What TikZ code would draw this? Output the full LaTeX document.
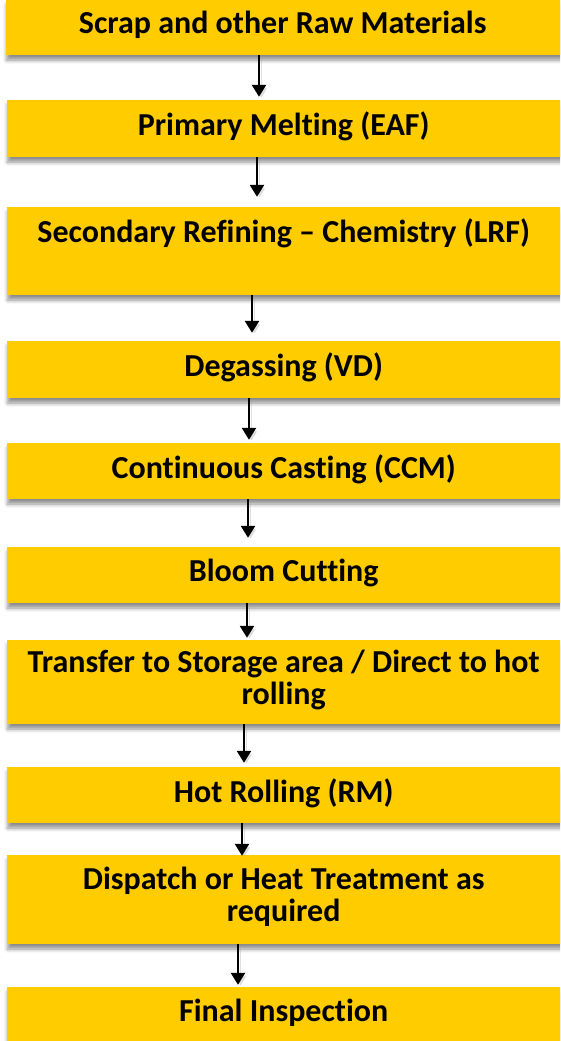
\documentclass[tikz,border=0pt]{standalone}
\usepackage{fontspec}
\setmainfont[Ligatures=NoCommon]{Carlito}
\usetikzlibrary{arrows.meta,shadows.blur}
\definecolor{boxyellow}{HTML}{FFCC00}
\newcommand{\boxtext}[1]{\makebox[573pt][l]{\makebox[553pt][c]{\begin{tabular}{@{}c@{}}#1\end{tabular}}}}
\tikzset{
  stepbox/.style={fill=boxyellow, draw=none, inner sep=0pt, anchor=west,
    font=\fontsize{32}{32}\selectfont\bfseries, text=black,
    blur shadow={shadow xshift=0.5pt, shadow yshift=-5pt, shadow blur radius=4pt, shadow opacity=45}},
  flow/.style={line width=2.5pt, draw=black, -{Triangle[width=14pt,length=12pt]},
    preaction={draw=black!35, opacity=0.35, transform canvas={xshift=2.5pt,yshift=-2.5pt}}}
}
\begin{document}
\begin{tikzpicture}[x=1pt,y=-1pt]
\useasboundingbox (0,0) rectangle (560,1041);
\clip (0,0) rectangle (560,1041);
\node[stepbox, minimum height=55pt] (b1) at (6,27.5) {\boxtext{Scrap and other Raw Materials}};
\node[stepbox, minimum height=57pt] (b2) at (7,128.5) {\boxtext{Primary Melting (EAF)}};
\node[stepbox, minimum height=88pt] (b3) at (7,251) {\boxtext{Secondary Refining – Chemistry (LRF)\\ \mbox{}}};
\node[stepbox, minimum height=57pt] (b4) at (7,369.5) {\boxtext{Degassing (VD)}};
\node[stepbox, minimum height=56pt] (b5) at (7,471) {\boxtext{Continuous Casting (CCM)}};
\node[stepbox, minimum height=56pt] (b6) at (7,575) {\boxtext{Bloom Cutting}};
\node[stepbox, minimum height=84pt] (b7) at (7,682) {\boxtext{Transfer to Storage area / Direct to hot\\ rolling}};
\node[stepbox, minimum height=56pt] (b8) at (7,795) {\boxtext{Hot Rolling (RM)}};
\node[stepbox, minimum height=89pt] (b9) at (7,899.5) {\boxtext{Dispatch or Heat Treatment as\\ required}};
\node[stepbox, minimum height=56pt] (b10) at (7,1015) {\boxtext{Final Inspection}};
\draw[flow] ([xshift=253pt]b1.south west) -- ([xshift=252pt,yshift=3pt]b2.north west);
\draw[flow] ([xshift=250pt]b2.south west) -- ([xshift=250pt,yshift=10pt]b3.north west);
\draw[flow] ([xshift=245pt]b3.south west) -- ([xshift=245pt,yshift=8pt]b4.north west);
\draw[flow] ([xshift=242pt]b4.south west) -- ([xshift=242pt,yshift=3pt]b5.north west);
\draw[flow] ([xshift=241pt]b5.south west) -- ([xshift=241pt,yshift=9pt]b6.north west);
\draw[flow] ([xshift=240pt]b6.south west) -- ([xshift=240pt,yshift=2pt]b7.north west);
\draw[flow] ([xshift=237pt]b7.south west) -- ([xshift=237pt,yshift=4pt]b8.north west);
\draw[flow] ([xshift=235pt]b8.south west) -- ([xshift=235pt,yshift=-1pt]b9.north west);
\draw[flow] ([xshift=231pt]b9.south west) -- ([xshift=231pt,yshift=2pt]b10.north west);
\end{tikzpicture}
\end{document}
